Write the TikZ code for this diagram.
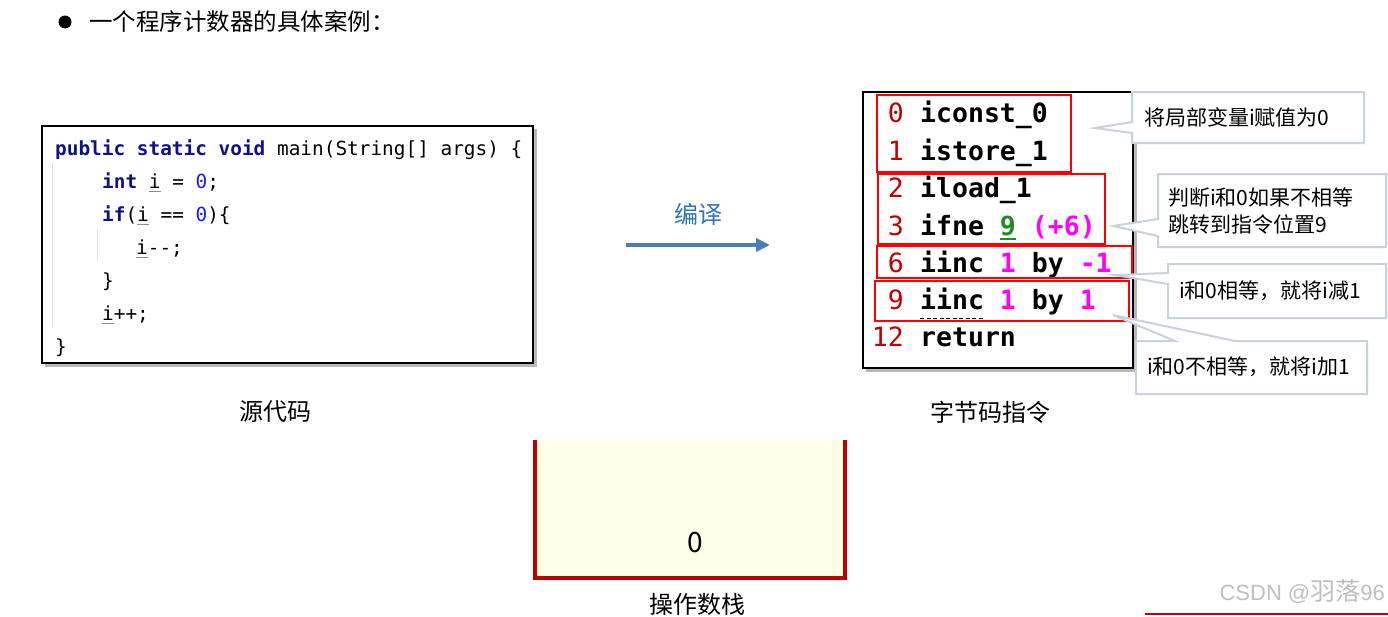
\documentclass[tikz,border=0pt]{standalone}
\usepackage{fontspec}
\newfontfamily\cjk{Noto Sans CJK SC}
\newfontfamily\mono{DejaVu Sans Mono}
\newfontfamily\libsans{Liberation Sans}
\usetikzlibrary{arrows.meta}
\definecolor{kw}{HTML}{10108A}
\definecolor{numblue}{HTML}{1A1AFF}
\definecolor{numred}{HTML}{C00000}
\definecolor{mag}{HTML}{FF00FF}
\definecolor{grn}{HTML}{1E8C1E}
\definecolor{callgray}{HTML}{C8D2DE}
\definecolor{arrowblue}{HTML}{4A7EBB}
\definecolor{textblue}{HTML}{2E74C0}
\definecolor{stackfill}{HTML}{FFFFE6}
\definecolor{stackred}{HTML}{C00000}
\newcommand\ui[1]{\leavevmode\rlap{\textcolor{black!45}{\rule[-3.5pt]{0.6em}{0.9pt}}}#1}
\newcommand\gu[1]{\leavevmode\rlap{\textcolor{grn}{\rule[-4.5pt]{0.6em}{1.6pt}}}#1}
\tikzset{
  codeline/.style={anchor=base west, inner sep=0pt, font=\mono\fontsize{19.4}{23}\selectfont},
  bcnum/.style={anchor=base east, inner sep=0pt, text=numred, font=\mono\fontsize{26.5}{30}\selectfont},
  bcop/.style={anchor=base west, inner sep=0pt, font=\mono\bfseries\fontsize{26.5}{30}\selectfont},
  biglabel/.style={inner sep=0pt, font=\cjk\fontsize{24}{28}\selectfont},
  calltext/.style={anchor=west, inner sep=0pt, align=left, font=\cjk\fontsize{21}{27}\selectfont},
  callout/.style={draw=callgray, line width=2pt, fill=white, line join=miter},
  redbox/.style={draw=red, line width=2pt},
  guide/.style={draw=black!12, line width=1pt},
  shadowc/.style={fill=black!28},
}
\begin{document}
\begin{tikzpicture}[x=1pt,y=-1pt]
\useasboundingbox (0,0) rectangle (1388,616);
\clip (0,0) rectangle (1388,616);
\fill[white] (0,0) rectangle (1388,616);

% title
\fill (65,22) circle (6.5);
\node[anchor=west, inner sep=0pt, font=\cjk\fontsize{23.5}{27}\selectfont] (title) at (89,22) {一个程序计数器的具体案例：};

% source code box
\fill[shadowc] (45,129) rectangle (537,367);
\draw[fill=white, line width=2pt] (42,126) rectangle (533,363);
\draw[guide] (52,163) -- (52,327);
\draw[guide] (97,229) -- (97,261);
\node[codeline] (c1) at (55,155) {\textbf{\color{kw}public static void} main(String[] args) \{};
\node[codeline] (c2) at (102,188) {\textbf{\color{kw}int} \ui{i} = {\color{numblue}0};};
\node[codeline] (c3) at (102,221) {\textbf{\color{kw}if}(\ui{i} == {\color{numblue}0})\{};
\node[codeline] (c4) at (136,254) {\ui{i}-{}-;};
\node[codeline] (c5) at (102,287) {\}};
\node[codeline] (c6) at (102,320) {\ui{i}+{}+;};
\node[codeline] (c7) at (55,353) {\}};
\node[biglabel] (src) at (275,412) {源代码};

% compile arrow
\coordinate (a1) at (626,245);
\coordinate (a2) at (770,245);
\draw[arrowblue, line width=3.5pt, -{Triangle[length=14pt,width=13pt]}] (a1) -- (a2);
\node[biglabel, text=textblue] (compile) at (698,214) {编译};

% bytecode box
\fill[shadowc] (866,95) rectangle (1137,372);
\draw[fill=white, line width=2pt] (863,92) rectangle (1133,368);
\node[bcnum] (n0) at (904,122) {0};
\node[bcop] (o0) at (920,122) {iconst\_0};
\node[bcnum] (n1) at (904,160) {1};
\node[bcop] (o1) at (920,160) {istore\_1};
\node[bcnum] (n2) at (904,197) {2};
\node[bcop] (o2) at (920,197) {iload\_1};
\node[bcnum] (n3) at (904,235) {3};
\node[bcop] (o3) at (920,235) {ifne {\color{grn}\gu{9}} {\color{mag}(+6)}};
\node[bcnum] (n6) at (904,272) {6};
\node[bcop] (o6) at (920,272) {iinc {\color{mag}1} by {\color{mag}-1}};
\node[bcnum] (n9) at (904,309) {9};
\node[bcop] (o9) at (920,309) {iinc {\color{mag}1} by {\color{mag}1}};
\node[bcnum] (n12) at (904,346) {12};
\node[bcop] (o12) at (920,346) {return};
\draw[line width=1pt, dash pattern=on 4pt off 2.5pt] ([yshift=-9pt]o9.base west) -- ++(63,0);
\node[biglabel] (bc) at (990,412) {字节码指令};

% red boxes
\draw[redbox] (877,95) rectangle (1071,172);
\draw[redbox] (878,174) rectangle (1105,244);
\draw[redbox] (877,246) rectangle (1132,278);
\draw[redbox] (875,281) rectangle (1129,321);

% callouts
\draw[callout] (1132,92) -- (1364,92) -- (1364,143) -- (1132,143) -- (1132,133) -- (1095,128) -- (1132,122) -- cycle;
\node[calltext] (t1) at (1144,117) {将局部变量i赋值为0};
\draw[callout] (1158,174) -- (1386,174) -- (1386,247) -- (1158,247) -- (1158,236) -- (1113,226) -- (1158,219) -- cycle;
\node[calltext] (t2) at (1168,211) {判断i和0如果不相等\\跳转到指令位置9};
\draw[callout] (1168,264) -- (1386,264) -- (1386,318) -- (1168,318) -- (1168,284) -- (1115,275) -- (1168,273) -- cycle;
\node[calltext] (t3) at (1179,291) {i和0相等，就将i减1};
\draw[callout] (1136,341) -- (1175,341) -- (1113,315) -- (1235,341) -- (1367,341) -- (1367,394) -- (1136,394) -- cycle;
\node[calltext] (t4) at (1147,367) {i和0不相等，就将i加1};

% operand stack
\fill[stackfill] (537,440) rectangle (845,578);
\draw[stackred, line width=4pt, line join=miter] (535,440) -- (535,578) -- (845,578) -- (845,440);
\node[inner sep=0pt, font=\cjk\fontsize{28}{32}\selectfont] (zero) at (695,543) {0};
\node[biglabel] (stack) at (697,604) {操作数栈};

% watermark
\node[anchor=east, inner sep=0pt, text=black!25, font=\libsans\fontsize{22}{27}\selectfont] (wm) at (1385,592) {CSDN @{\cjk\fontsize{25}{27}\selectfont 羽落}96};
\draw[numred, line width=2pt] (1145,614) -- (1388,614);
\end{tikzpicture}
\end{document}
